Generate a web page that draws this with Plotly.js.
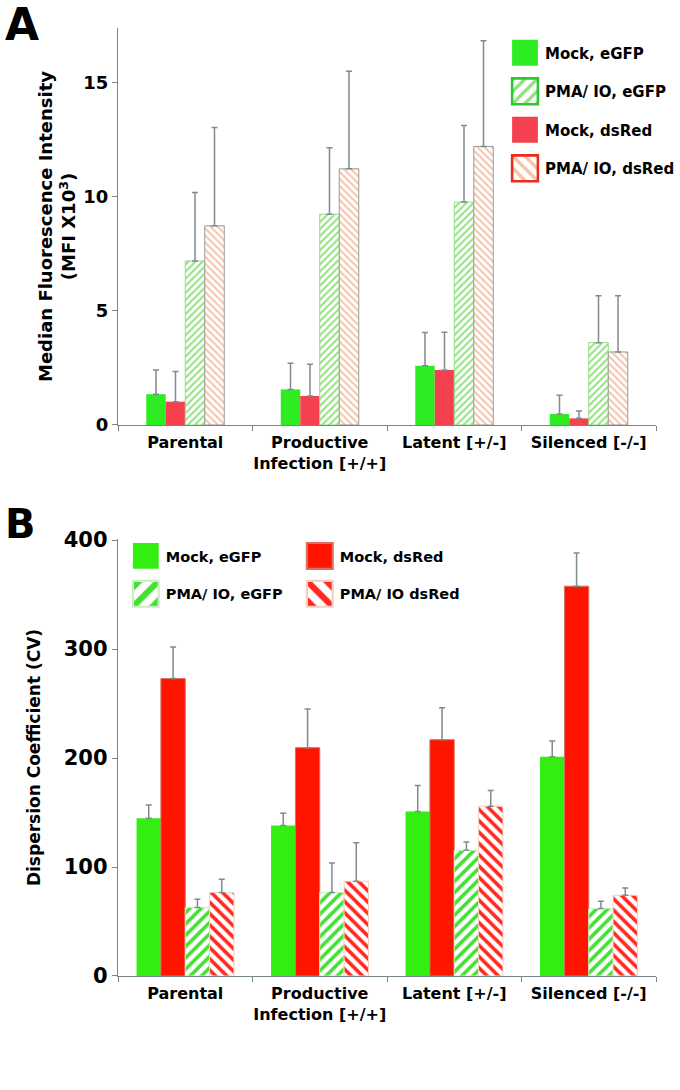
<!DOCTYPE html>
<html>
<head>
<meta charset="utf-8">
<script src="https://cdn.plot.ly/plotly-3.0.1.min.js"></script>
<style>
  body { margin: 0; background: #fff; }
  #plot { width: 680px; height: 1090px; }
</style>
</head>
<body>
<div id="plot"></div>
<script>
// cell lines on the x axis (same for both panels)
const cellLines = ['Parental', 'Productive<br>Infection [+/+]', 'Latent [+/-]', 'Silenced [-/-]'];

// Panel A: median fluorescence intensity (MFI x10^3) and upper error
const mfiMockGfp = [1.35, 1.56, 2.60, 0.48];
const mfiMockRed = [1.02, 1.27, 2.41, 0.29];
const mfiPmaGfp  = [7.19, 9.24, 9.77, 3.61];
const mfiPmaRed  = [8.73, 11.23, 12.21, 3.20];
const mfiErrMockGfp = [1.06, 1.15, 1.45, 0.82];
const mfiErrMockRed = [1.32, 1.39, 1.66, 0.32];
const mfiErrPmaGfp  = [3.00, 2.91, 3.36, 2.05];
const mfiErrPmaRed  = [4.31, 4.27, 4.63, 2.46];

// Panel B: dispersion coefficient (CV) and upper error
const cvMockGfp = [144.8, 138.1, 151.0, 201.3];
const cvMockRed = [272.9, 209.5, 216.8, 357.7];
const cvPmaGfp  = [62.8, 76.6, 115.3, 61.9];
const cvPmaRed  = [76.6, 86.9, 155.8, 74.1];
const cvErrMockGfp = [12.2, 11.3, 23.7, 14.3];
const cvErrMockRed = [29.1, 35.4, 29.3, 30.5];
const cvErrPmaGfp  = [7.6, 27.1, 7.6, 6.7];
const cvErrPmaRed  = [12.1, 35.4, 14.4, 6.7];

const mfiTicks = [0, 5, 10, 15];
const cvTicks = [0, 100, 200, 300, 400];

const FONT = 'DejaVu Sans, Arial, sans-serif';
const axisGray = '#76858a';

// panel B bars are wider than panel A ones, bargap is layout-wide so set them by hand
const bWidth = 0.181;

function errBar(arr) {
    return {
        type: 'data', symmetric: false, array: arr, arrayminus: arr.map(() => 0),
        color: '#7f8c8d', thickness: 1.5, width: 3
    };
}

// panel A traces
let a1 = {
    type: 'bar', x: cellLines, y: mfiMockGfp, name: 'Mock, eGFP',
    xaxis: 'x', yaxis: 'y', legend: 'legend', legendrank: 1,
    marker: { color: '#2ded22', line: { width: 0 } },
    error_y: errBar(mfiErrMockGfp)
};
let a2 = {
    type: 'bar', x: cellLines, y: mfiMockRed, name: 'Mock, dsRed',
    xaxis: 'x', yaxis: 'y', legend: 'legend', legendrank: 3,
    marker: { color: '#f5414f', line: { width: 0 } },
    error_y: errBar(mfiErrMockRed)
};
let a3 = {
    type: 'bar', x: cellLines, y: mfiPmaGfp, name: 'PMA/ IO, eGFP',
    xaxis: 'x', yaxis: 'y', legend: 'legend', legendrank: 2,
    marker: {
        color: '#8fe27e',
        line: { color: '#8ee07e', width: 1 },
        pattern: { shape: '/', bgcolor: '#ffffff', fgcolor: '#8fe27e', size: 5, solidity: 0.4 }
    },
    error_y: errBar(mfiErrPmaGfp)
};
let a4 = {
    type: 'bar', x: cellLines, y: mfiPmaRed, name: 'PMA/ IO, dsRed',
    xaxis: 'x', yaxis: 'y', legend: 'legend', legendrank: 4,
    marker: {
        color: '#f6c2a8',
        line: { color: '#9a9a9a', width: 1 },
        pattern: { shape: '\\', bgcolor: '#ffffff', fgcolor: '#f6c2a8', size: 5, solidity: 0.4 }
    },
    error_y: errBar(mfiErrPmaRed)
};

// panel B traces
let b1 = {
    type: 'bar', x: cellLines, y: cvMockGfp, name: 'Mock, eGFP',
    xaxis: 'x2', yaxis: 'y2', legend: 'legend2',
    width: bWidth, offset: -2 * bWidth,
    marker: { color: '#33ee11', line: { width: 0 } },
    error_y: errBar(cvErrMockGfp)
};
let b2 = {
    type: 'bar', x: cellLines, y: cvMockRed, name: 'Mock, dsRed',
    xaxis: 'x2', yaxis: 'y2', legend: 'legend2',
    width: bWidth, offset: -bWidth,
    marker: { color: '#ff1400', line: { color: '#d87060', width: 1 } },
    error_y: errBar(cvErrMockRed)
};
let b3 = {
    type: 'bar', x: cellLines, y: cvPmaGfp, name: 'PMA/ IO, eGFP',
    xaxis: 'x2', yaxis: 'y2', legend: 'legend3',
    width: bWidth, offset: 0,
    marker: {
        color: '#44e033',
        line: { color: '#c8f0c0', width: 1 },
        pattern: { shape: '/', bgcolor: '#ffffff', fgcolor: '#44e033', size: 8, solidity: 0.45 }
    },
    error_y: errBar(cvErrPmaGfp)
};
let b4 = {
    type: 'bar', x: cellLines, y: cvPmaRed, name: 'PMA/ IO dsRed',
    xaxis: 'x2', yaxis: 'y2', legend: 'legend3',
    width: bWidth, offset: bWidth,
    marker: {
        color: '#ff2a22',
        line: { color: '#f5d0c0', width: 1 },
        pattern: { shape: '\\', bgcolor: '#ffffff', fgcolor: '#ff2a22', size: 8, solidity: 0.45 }
    },
    error_y: errBar(cvErrPmaRed)
};

// each A trace in its own group so tracegroupgap spaces them out
[a1, a2, a3, a4].forEach((t, i) => { t.legendgroup = 'a' + i; });

const tickFont = size => ({ family: FONT, size: size, color: '#000', weight: 'bold' });

let xCommon = {
    showline: true, linecolor: axisGray, linewidth: 1.2,
    ticks: 'outside', tickson: 'boundaries', ticklen: 5, tickcolor: axisGray,
    tickangle: 0, ticklabelstandoff: 3,
    showgrid: false, zeroline: false, fixedrange: true,
    tickfont: tickFont(16)
};

let layout = {
    width: 680, height: 1090,
    margin: { l: 118, r: 9, t: 0, b: 0 },
    paper_bgcolor: '#fff', plot_bgcolor: '#fff',
    barmode: 'group',
    bargap: 0.42, bargroupgap: 0,
    font: { family: FONT, color: '#000' },
    showlegend: true,
    xaxis: Object.assign({}, xCommon, { domain: [0, 1], anchor: 'y' }),
    yaxis: {
        domain: [0.6101, 0.9743], anchor: 'x', range: [0, 17.4],
        tickvals: mfiTicks, showline: true, linecolor: axisGray, linewidth: 1.2,
        ticks: 'outside', ticklen: 5, tickcolor: axisGray,
        showgrid: false, zeroline: false, tickfont: tickFont(18),
        title: {
            text: 'Median Fluorescence Intensity<br>(MFI X10<sup>3</sup>)',
            font: { family: FONT, size: 18, color: '#000', weight: 'bold' },
            standoff: 2
        }
    },
    xaxis2: Object.assign({}, xCommon, { domain: [0, 1], anchor: 'y2' }),
    yaxis2: {
        domain: [0.1046, 0.5055], anchor: 'x2', range: [0, 401],
        tickvals: cvTicks, showline: true, linecolor: axisGray, linewidth: 1.2,
        ticks: 'outside', ticklen: 5, tickcolor: axisGray,
        showgrid: false, zeroline: false, tickfont: tickFont(21),
        title: {
            text: 'Dispersion Coefficient (CV)',
            font: { family: FONT, size: 17, color: '#000', weight: 'bold' },
            standoff: 18
        }
    },
    legend: {
        x: 0.7197, y: 0.9665, xanchor: 'left', yanchor: 'top',
        traceorder: 'grouped', tracegroupgap: 16,
        font: { family: FONT, size: 15, color: '#000', weight: 'bold' },
        bgcolor: 'rgba(0,0,0,0)'
    },
    legend2: {
        x: 0.0145, y: 0.5046, xanchor: 'left', yanchor: 'top',
        orientation: 'h', entrywidth: 129,
        font: { family: FONT, size: 14.5, color: '#000', weight: 'bold' },
        bgcolor: 'rgba(0,0,0,0)'
    },
    legend3: {
        x: 0.0145, y: 0.4698, xanchor: 'left', yanchor: 'top',
        orientation: 'h', entrywidth: 129,
        font: { family: FONT, size: 14.5, color: '#000', weight: 'bold' },
        bgcolor: 'rgba(0,0,0,0)'
    },
    annotations: [
        { text: 'A', xref: 'paper', yref: 'paper', x: -0.2134, y: 1.003, xanchor: 'left', yanchor: 'top',
          showarrow: false, font: { family: FONT, size: 44, color: '#000', weight: 'bold' } },
        { text: 'B', xref: 'paper', yref: 'paper', x: -0.2134, y: 0.542, xanchor: 'left', yanchor: 'top',
          showarrow: false, font: { family: FONT, size: 40, color: '#000', weight: 'bold' } }
    ]
};

// legend swatch outlines in the figure differ a bit from the bar outlines
const swatchStroke = { 'PMA/ IO, eGFP': '#2ec82e', 'PMA/ IO, dsRed': '#ee2a20' };

Plotly.newPlot('plot', [a1, a2, a3, a4, b1, b2, b3, b4], layout, { staticPlot: true }).then(() => {
    // the figure uses big legend swatches, plotly draws 12px ones
    document.querySelectorAll('.legendpoints path').forEach(p => {
        let t = p.getAttribute('transform') || '';
        p.setAttribute('transform', t + ' scale(2.15)');
    });
    document.querySelectorAll('.legend .traces').forEach(g => {
        let txt = g.querySelector('.legendtext');
        let p = g.querySelector('.legendpoints path');
        if (!txt || !p) return;
        let c = swatchStroke[txt.textContent];
        if (c) {
            p.style.stroke = c;
            p.style.strokeWidth = '1.2px';
        }
    });
});
</script>
</body>
</html>
